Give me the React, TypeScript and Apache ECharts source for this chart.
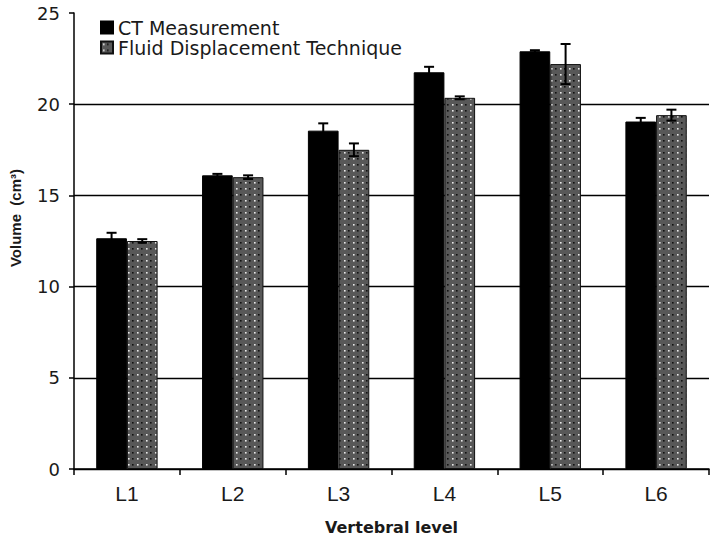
import React, { useEffect, useRef } from "react";
import * as echarts from "echarts";

const categories = ["L1", "L2", "L3", "L4", "L5", "L6"];
const ctValues = [12.65, 16.1, 18.55, 21.75, 22.9, 19.05];
const ctErrors = [0.3, 0.08, 0.4, 0.3, 0.06, 0.2];
const fluidValues = [12.5, 16.0, 17.5, 20.35, 22.2, 19.4];
const fluidErrors = [0.1, 0.1, 0.35, 0.08, 1.1, 0.3];
const yTicks = { min: 0, max: 25, interval: 5 };
const seriesNames = ["CT Measurement", "Fluid Displacement Technique"];

const CAT_GAP = 0.42;

function makePattern(): HTMLCanvasElement {
  const c = document.createElement("canvas");
  c.width = 9;
  c.height = 6;
  const ctx = c.getContext("2d")!;
  ctx.fillStyle = "#585858";
  ctx.fillRect(0, 0, 9, 6);
  ctx.fillStyle = "#e8e8e8";
  ctx.fillRect(2, 2, 1.6, 1.6);
  ctx.fillStyle = "#111111";
  ctx.fillRect(6, 2, 1.6, 1.6);
  return c;
}

function errorRenderer(side: number) {
  return (params: any, api: any) => {
    const idx = api.value(0);
    const val = api.value(1);
    const err = api.value(2);
    const catW = api.size([1, 0])[0];
    const bw = (catW * (1 - CAT_GAP)) / 2;
    const c = api.coord([idx, val]);
    const x = c[0] + (side * bw) / 2;
    const top = api.coord([idx, val + err])[1];
    const bot = api.coord([idx, val - err])[1];
    const cap = 5;
    const style = { stroke: "#000", lineWidth: 2 };
    return {
      type: "group",
      children: [
        { type: "line", shape: { x1: x, y1: top, x2: x, y2: bot }, style },
        { type: "line", shape: { x1: x - cap, y1: top, x2: x + cap, y2: top }, style },
        { type: "line", shape: { x1: x - cap, y1: bot, x2: x + cap, y2: bot }, style },
      ],
    };
  };
}

export default function App() {
  const ref = useRef<HTMLDivElement>(null);
  useEffect(() => {
    if (!ref.current) return;
    const chart = echarts.init(ref.current, undefined, { renderer: "svg" });
    const pattern = { image: makePattern(), repeat: "repeat" };
    chart.setOption({
      animation: false,
      backgroundColor: "#fff",
      grid: { left: 74, right: 2, top: 13, bottom: 68, containLabel: false, outerBoundsMode: "none" },
      legend: {
        orient: "vertical",
        left: 95,
        top: 13,
        itemWidth: 12,
        itemHeight: 12,
        itemGap: 1,
        icon: "rect",
        data: seriesNames,
        textStyle: { fontFamily: "DejaVu Sans", fontSize: 19, color: "#1a1a1a", lineHeight: 19 },
      },
      xAxis: {
        type: "category",
        data: categories,
        name: "Vertebral level",
        nameLocation: "middle",
        nameGap: 50,
        nameTextStyle: { fontFamily: "DejaVu Sans", fontWeight: "bold", fontSize: 16, color: "#1a1a1a" },
        axisLine: { lineStyle: { color: "#000", width: 1.5 } },
        axisTick: { show: true, length: 6, lineStyle: { color: "#000", width: 1.5 } },
        axisLabel: { fontFamily: "Liberation Sans", fontSize: 21, color: "#1a1a1a", margin: 14 },
      },
      yAxis: {
        type: "value",
        min: yTicks.min,
        max: yTicks.max,
        interval: yTicks.interval,
        axisLine: { show: true, lineStyle: { color: "#000", width: 1.5 } },
        axisTick: { show: true, length: 5, lineStyle: { color: "#000", width: 1.5 } },
        axisLabel: { fontFamily: "DejaVu Sans", fontSize: 18, color: "#1a1a1a", margin: 14 },
        splitLine: { show: true, showMaxLine: false, lineStyle: { color: "#000", width: 1.3 } },
      },
      graphic: [
        {
          type: "text",
          x: 15,
          y: 218,
          rotation: Math.PI / 2,
          style: {
            text: "Volume  (cm³)",
            fontFamily: "Liberation Sans",
            fontWeight: "bold",
            fontSize: 15,
            fill: "#1a1a1a",
            textAlign: "center",
            textVerticalAlign: "middle",
          },
        },
      ],
      series: [
        {
          name: seriesNames[0],
          type: "bar",
          data: ctValues,
          barGap: "0%",
          barCategoryGap: CAT_GAP * 100 + "%",
          itemStyle: { color: "#000", borderColor: "#000", borderWidth: 1 },
        },
        {
          name: seriesNames[1],
          type: "bar",
          data: fluidValues,
          barGap: "0%",
          barCategoryGap: CAT_GAP * 100 + "%",
          itemStyle: { color: pattern, borderColor: "#111", borderWidth: 1 },
        },
        {
          type: "custom",
          name: "ct-err",
          z: 5,
          renderItem: errorRenderer(-1),
          encode: { x: 0, y: 1 },
          data: ctValues.map((v, i) => [i, v, ctErrors[i]]),
        },
        {
          type: "custom",
          name: "fluid-err",
          z: 5,
          renderItem: errorRenderer(1),
          encode: { x: 0, y: 1 },
          data: fluidValues.map((v, i) => [i, v, fluidErrors[i]]),
        },
      ],
    });
    return () => chart.dispose();
  }, []);
  return <div ref={ref} style={{ width: 711, height: 537, position: "absolute", left: 0, top: 0 }} />;
}
